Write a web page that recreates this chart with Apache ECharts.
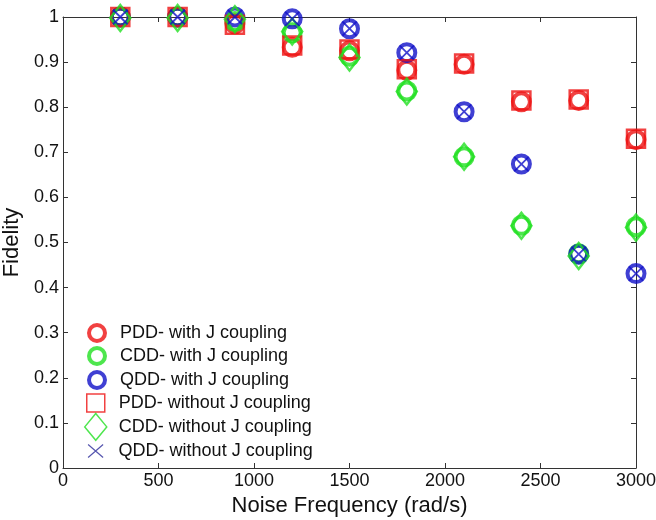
<!DOCTYPE html>
<html>
<head>
<meta charset="utf-8">
<script src="https://cdn.jsdelivr.net/npm/echarts@6/dist/echarts.min.js"></script>
<style>
html,body{margin:0;padding:0;background:#fff;}
#chart{width:656px;height:520px;}
</style>
</head>
<body>
<div id="chart"></div>
<script>
// noise frequency (rad/s)
var freq = [300, 600, 900, 1200, 1500, 1800, 2100, 2400, 2700, 3000];

// fidelity, with J coupling
var pddJ = [1.0, 1.0, 0.985, 0.933, 0.925, 0.882, 0.895, 0.812, 0.815, 0.728];
var cddJ = [1.0, 1.0, 0.99, 0.965, 0.913, 0.836, 0.69, 0.538, 0.475, 0.535];
var qddJ = [1.0, 1.0, 1.0, 0.996, 0.974, 0.921, 0.79, 0.674, 0.474, 0.431];

// fidelity, without J coupling
var pddNoJ = [1.0, 1.0, 0.983, 0.937, 0.928, 0.884, 0.897, 0.815, 0.817, 0.73];
var cddNoJ = [0.998, 0.998, 0.995, 0.968, 0.91, 0.835, 0.69, 0.537, 0.47, 0.533];
var qddNoJ = [1.0, 1.0, 1.0, 0.996, 0.974, 0.921, 0.79, 0.674, 0.474, 0.431];

var xTicks = [0, 500, 1000, 1500, 2000, 2500, 3000];
var yTicks = [0, 0.1, 0.2, 0.3, 0.4, 0.5, 0.6, 0.7, 0.8, 0.9, 1];

var RED = '#ee1111', GREEN = '#22e022', BLUE = '#1010c8', NAVY = '#2a2a9a';
var CROSS = 'path://M0,0L10,10M10,0L0,10';
var SQUARE = 'path://M0,0L10,0L10,10L0,10Z';
var DIAMOND = 'path://M23,0L46,28L23,56L0,28Z';
var LCROSS = 'path://M0,0L15,13M15,0L0,13';
var font = 'Liberation Sans, Arial, sans-serif';

function pairs(ys) {
    var out = [];
    for (var i = 0; i < freq.length; i++) out.push([freq[i], ys[i]]);
    return out;
}

function mk(name, ys, symbol, size, color, bw) {
    return {
        name: name,
        type: 'scatter',
        data: pairs(ys),
        symbol: symbol,
        symbolSize: size,
        clip: false,
        itemStyle: {color: 'rgba(255,255,255,0)', borderColor: color, borderWidth: bw},
        emphasis: {disabled: true}
    };
}

var series = [
    mk('PDD- with J coupling', pddJ, 'circle', 17, RED, 4),
    mk('CDD- with J coupling', cddJ, 'circle', 17, GREEN, 4),
    mk('QDD- with J coupling', qddJ, 'circle', 17, BLUE, 4),
    mk('PDD- without J coupling', pddNoJ, 'rect', 18, RED, 2.5),
    mk('CDD- without J coupling', cddNoJ, 'diamond', [20, 26], GREEN, 2.5),
    mk('QDD- without J coupling', qddNoJ, CROSS, 14, BLUE, 1.8)
];

// one small legend per row, so each icon gets its own size
var rowCenter = [333, 356, 380, 403, 427, 451];
var legIcon = ['circle', 'circle', 'circle', SQUARE, DIAMOND, LCROSS];
var legW = [16, 16, 16, 18, 22, 15];
var legH = [16, 16, 16, 18, 27, 13];
var legColor = [RED, GREEN, BLUE, RED, GREEN, NAVY];
var legBw = [4, 4, 4, 1.5, 1.5, 1.2];

var legends = [];
for (var k = 0; k < series.length; k++) {
    var box = Math.max(legH[k] + legBw[k], 18);
    legends.push({
        orient: 'vertical',
        left: 95 - legW[k] / 2,
        top: rowCenter[k] - box / 2,
        padding: 0,
        itemWidth: legW[k],
        itemHeight: legH[k],
        selectedMode: false,
        textStyle: {fontFamily: font, fontSize: 18, color: '#111', padding: [0, 0, 0, 18 - legW[k] / 2]},
        data: [{
            name: series[k].name,
            icon: legIcon[k],
            itemStyle: {color: k === 5 ? 'rgba(0,0,0,0)' : '#fff', borderColor: legColor[k], borderWidth: legBw[k]}
        }]
    });
}

var lineStyle = {color: '#333', width: 1};
var fmt = function (v) { return String(v); };

var chart = echarts.init(document.getElementById('chart'));
chart.setOption({
    animation: false,
    backgroundColor: '#fff',
    textStyle: {fontFamily: font},
    grid: {left: 63, right: 20, top: 17, bottom: 52, outerBoundsMode: 'none', containLabel: false},
    legend: legends,
    xAxis: [{
        type: 'value', min: xTicks[0], max: xTicks[xTicks.length - 1], interval: 500,
        name: 'Noise Frequency (rad/s)', nameLocation: 'middle', nameGap: 25,
        nameTextStyle: {fontFamily: font, fontSize: 22, color: '#111'},
        axisLine: {show: true, onZero: false, lineStyle: lineStyle},
        axisTick: {show: true, inside: true, length: 5, lineStyle: lineStyle},
        axisLabel: {fontFamily: font, fontSize: 18, color: '#111', margin: 4, formatter: fmt},
        splitLine: {show: false}
    }, {
        type: 'value', position: 'top', min: 0, max: 3000, interval: 500,
        axisLine: {show: true, onZero: false, lineStyle: lineStyle},
        axisTick: {show: true, inside: true, length: 5, lineStyle: lineStyle},
        axisLabel: {show: false}, splitLine: {show: false}
    }],
    yAxis: [{
        type: 'value', min: yTicks[0], max: yTicks[yTicks.length - 1], interval: 0.1,
        name: 'Fidelity', nameLocation: 'middle', nameGap: 35, nameRotate: 90,
        nameTextStyle: {fontFamily: font, fontSize: 22, color: '#111'},
        axisLine: {show: true, onZero: false, lineStyle: lineStyle},
        axisTick: {show: true, inside: true, length: 5, lineStyle: lineStyle},
        axisLabel: {fontFamily: font, fontSize: 18, color: '#111', margin: 4, formatter: fmt},
        splitLine: {show: false}
    }, {
        type: 'value', position: 'right', min: 0, max: 1, interval: 0.1,
        axisLine: {show: true, onZero: false, lineStyle: lineStyle},
        axisTick: {show: true, inside: true, length: 5, lineStyle: lineStyle},
        axisLabel: {show: false}, splitLine: {show: false}
    }],
    series: series
});
</script>
</body>
</html>
